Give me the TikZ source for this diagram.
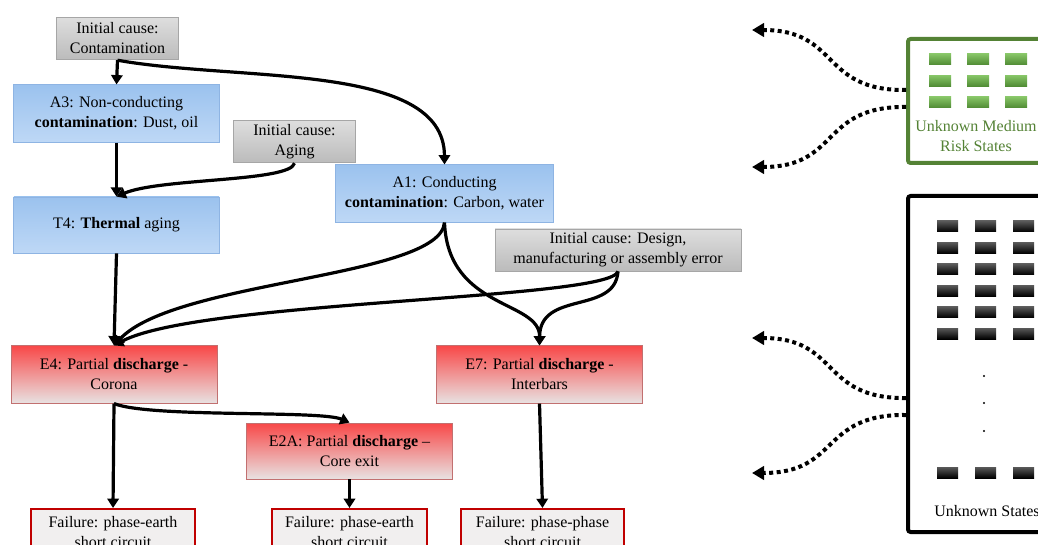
\documentclass[tikz,border=0pt]{standalone}
\usepackage{fontspec}
\setmainfont{Liberation Serif}
\usetikzlibrary{arrows.meta,calc}
\definecolor{causetop}{HTML}{DEDEDE}
\definecolor{causebot}{HTML}{BBBBBB}
\definecolor{causeline}{HTML}{A6A6A6}
\definecolor{statetop}{HTML}{9BC2EE}
\definecolor{statebot}{HTML}{BED8F6}
\definecolor{stateline}{HTML}{8EB4E3}
\definecolor{eventtop}{HTML}{F84848}
\definecolor{eventmid}{HTML}{F07070}
\definecolor{eventbot}{HTML}{E8E2E2}
\definecolor{eventline}{HTML}{C27070}
\definecolor{failline}{HTML}{C00000}
\definecolor{failfill}{HTML}{F1EFEF}
\definecolor{medgreen}{HTML}{548235}
\definecolor{greentop}{HTML}{86C466}
\definecolor{greenbot}{HTML}{4F8A33}

\begin{document}
\begin{tikzpicture}[x=0.75pt, y=-0.75pt, line width=2.4pt,
    >={Triangle[length=7pt,width=8.5pt]},
    font=\fontsize{12}{15}\selectfont,
    box/.style = {align=center, inner sep=0pt, line width=0.6pt},
    cause/.style = {box, draw=causeline, top color=causetop, bottom color=causebot},
    state/.style = {box, draw=stateline, top color=statetop, bottom color=statebot},
    event/.style = {box, draw=eventline, top color=eventtop, middle color=eventmid, bottom color=eventbot},
    fail/.style = {box, draw=failline, fill=failfill, line width=1.5pt, minimum height=34pt},
    group/.style = {draw, line width=3pt, rounded corners=2pt, minimum width=120pt, anchor=west},
    unkarrow/.style = {->, >={Triangle[length=9pt,width=10pt]}, line width=3pt, dash pattern=on 3pt off 2.6pt}]
    \clip (0,0) rectangle (1038,545);

    % causes and states
    \node[cause, minimum width=92pt, minimum height=32pt] (cont) at (117.5,38.5) {Initial cause:\\Contamination};
    \node[state, minimum width=154pt, minimum height=43pt] (a3) at (116.5,113.5) {A3: Non-conducting\\\textbf{contamination}: Dust, oil};
    \node[cause, minimum width=92pt, minimum height=32pt] (aging) at (294.5,141.5) {Initial cause:\\Aging};
    \node[state, minimum width=164pt, minimum height=43pt] (a1) at (444.5,193.5) {A1: Conducting\\\textbf{contamination}: Carbon, water};
    \node[state, minimum width=154pt, minimum height=42pt] (t4) at (116.5,225) {T4: \textbf{Thermal} aging};
    \node[cause, minimum width=184.5pt, minimum height=31.5pt] (design) at (618,250) {Initial cause: Design,\\manufacturing or assembly error};

    % discharge events
    \node[event, minimum width=154.5pt, minimum height=43pt] (e4) at (114,374.5) {E4: Partial \textbf{discharge} -\\Corona};
    \node[event, minimum width=154pt, minimum height=43pt] (e7) at (539.5,374.5) {E7: Partial \textbf{discharge} -\\Interbars};
    \node[event, minimum width=154pt, minimum height=42pt] (e2a) at (349.5,451) {E2A: Partial \textbf{discharge} --\\Core exit};

    % failures
    \node[fail, minimum width=123pt, anchor=north] (f1) at (113,508) {Failure: phase-earth\\short circuit};
    \node[fail, minimum width=116pt, anchor=north] (f2) at (349.5,508) {Failure: phase-earth\\short circuit};
    \node[fail, minimum width=122pt, anchor=north] (f3) at (542.5,508) {Failure: phase-phase\\short circuit};

    \draw[->] (cont.south) -- (a3.north);
    \draw[->] (cont.south) .. controls (240,82) and (444,62) .. (a1.north);
    \draw[->] (a3.south) -- (t4.north);
    \draw[->] (aging.south) .. controls (290,182) and (160,178) .. (t4.north);
    \draw[->] (t4.south) -- (e4.north);
    \draw[->] (a1.south) .. controls (440,278) and (175,280) .. (e4.north);
    \draw[->] (design.south) .. controls (610,300) and (200,300) .. (e4.north);
    \draw[->] (a1.south) .. controls (448,310) and (540,300) .. (e7.north);
    \draw[->] (design.south) .. controls (615,315) and (540,290) .. (e7.north);
    \draw[->] (e4.south) -- (f1.north);
    \draw[->] (e4.south) .. controls (150,418) and (320,410) .. (e2a.north);
    \draw[->] (e2a.south) -- (f2.north);
    \draw[->] (e7.south) -- (f3.north);

    % unknown state groups
    \node[group, draw=medgreen, minimum height=93pt] (med) at (906,101) {};
    \foreach \c in {0,1,2}
        \foreach \r in {0,1,2}
            \shade[top color=greentop, bottom color=greenbot] (929+38*\c,54+21.5*\r) rectangle +(22,11);
    \node[text=medgreen, align=center] (medlabel) at (976,136) {Unknown Medium\\Risk States};

    \node[group, minimum height=252pt] (unk) at (906,364) {};
    \foreach \c in {0,1,2} {
        \foreach \r in {0,...,5}
            \shade[top color=black!65, bottom color=black] (937+38*\c,221+21.4*\r) rectangle +(21,11);
        \shade[top color=black!65, bottom color=black] (937+38*\c,467) rectangle +(21,11);
    }
    \foreach \y in {376,403,431}
        \fill (984,\y) circle (0.9pt);
    \node (unklabel) at (987,511) {Unknown States};

    \coordinate (m1) at (752,30);
    \coordinate (m2) at (752,167);
    \coordinate (u1) at (752,338);
    \coordinate (u2) at (752,473);
    \draw[unkarrow] ($(med.west)+(0,-11)$) .. controls (820,91) and (840,30) .. (m1);
    \draw[unkarrow] ($(med.west)+(0,6)$) .. controls (820,106) and (840,167) .. (m2);
    \draw[unkarrow] ($(unk.west)+(0,34)$) .. controls (820,399) and (840,338) .. (u1);
    \draw[unkarrow] ($(unk.west)+(0,51)$) .. controls (820,414) and (840,473) .. (u2);
\end{tikzpicture}
\end{document}
